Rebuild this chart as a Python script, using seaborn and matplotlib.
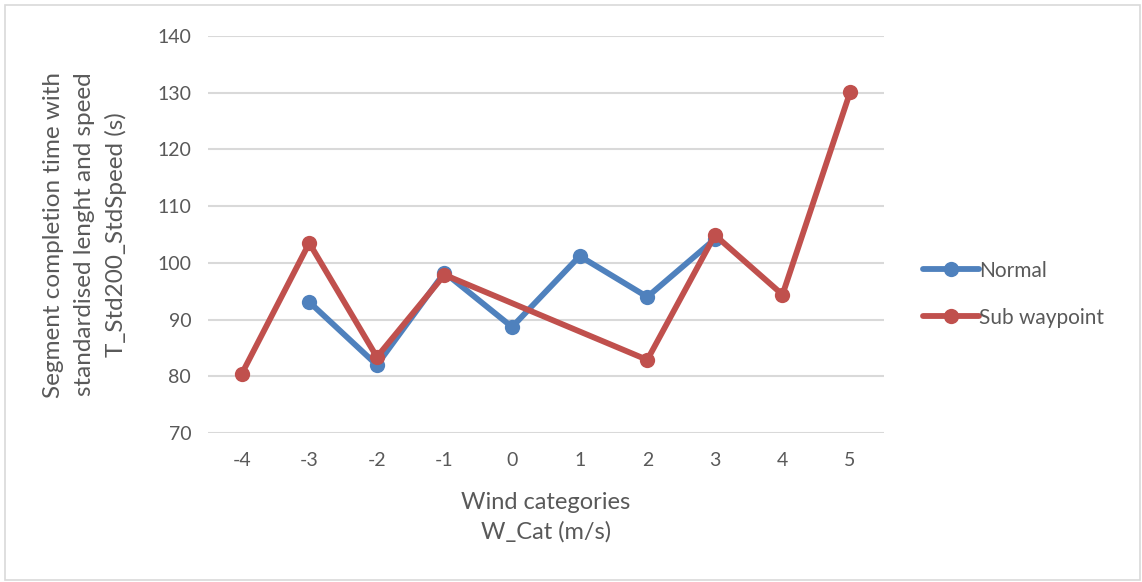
import numpy as np
import pandas as pd
import matplotlib
matplotlib.use("Agg")
import matplotlib.pyplot as plt
import seaborn as sns

categories = [-4, -3, -2, -1, 0, 1, 2, 3, 4, 5]
normal = [np.nan, 93.1, 82.0, 98.3, 88.7, 101.2, 94.0, 104.2, np.nan, np.nan]
sub_waypoint = [80.4, 103.5, 83.4, 97.9, np.nan, np.nan, 82.9, 104.9, 94.4, 130.1]
series_names = ["Normal", "Sub waypoint"]
y_ticks = [70, 80, 90, 100, 110, 120, 130, 140]

sns.set_theme(style="white")
plt.rcParams['font.family'] = ['Lato', 'DejaVu Sans']

df = pd.concat([
    pd.DataFrame({"x": categories, "y": normal, "series": series_names[0]}),
    pd.DataFrame({"x": categories, "y": sub_waypoint, "series": series_names[1]}),
]).dropna()

fig = plt.figure(figsize=(11.42, 5.82), dpi=100)
ax = fig.add_axes([0.182, 0.256, 0.592, 0.682])

palette = {"Normal": "#4F81BD", "Sub waypoint": "#C0504D"}
sns.lineplot(data=df, x="x", y="y", hue="series", palette=palette, ax=ax,
             marker="o", markersize=11, markeredgewidth=0, linewidth=4.2,
             estimator=None, sort=False, zorder=3)

ax.set_xlim(-4.5, 5.5)
ax.set_ylim(70, 140)
ax.set_xticks(categories)
ax.set_xticklabels([str(c) for c in categories])
ax.set_yticks(y_ticks)
ax.grid(axis="y", color="#D9D9D9", linewidth=1.5, zorder=0)
ax.grid(axis="x", visible=False)
for s in ax.spines.values():
    s.set_visible(False)
ax.tick_params(axis="both", colors="#595959", labelsize=14, length=0)
ax.tick_params(axis="y", pad=12)
ax.tick_params(axis="x", pad=14)

ax.set_xlabel("Wind categories\nW_Cat (m/s)", color="#595959", fontsize=17,
              labelpad=16, linespacing=1.5)
ax.set_ylabel("Segment completion time with\nstandardised lenght and speed\nT_Std200_StdSpeed (s)",
              color="#595959", fontsize=17.5, labelpad=22, linespacing=1.55)

leg = ax.legend(loc="center left", bbox_to_anchor=(1.03, 0.35), frameon=False,
                fontsize=15, handlelength=2.7, handletextpad=0.0, labelspacing=1.3)
for t in leg.get_texts():
    t.set_color("#595959")

fig.patches.append(plt.Rectangle((0.004, 0.004), 0.994, 0.988, transform=fig.transFigure,
                                 fill=False, edgecolor="#D9D9D9", linewidth=1.2))

fig.savefig("out.png", dpi=100)
